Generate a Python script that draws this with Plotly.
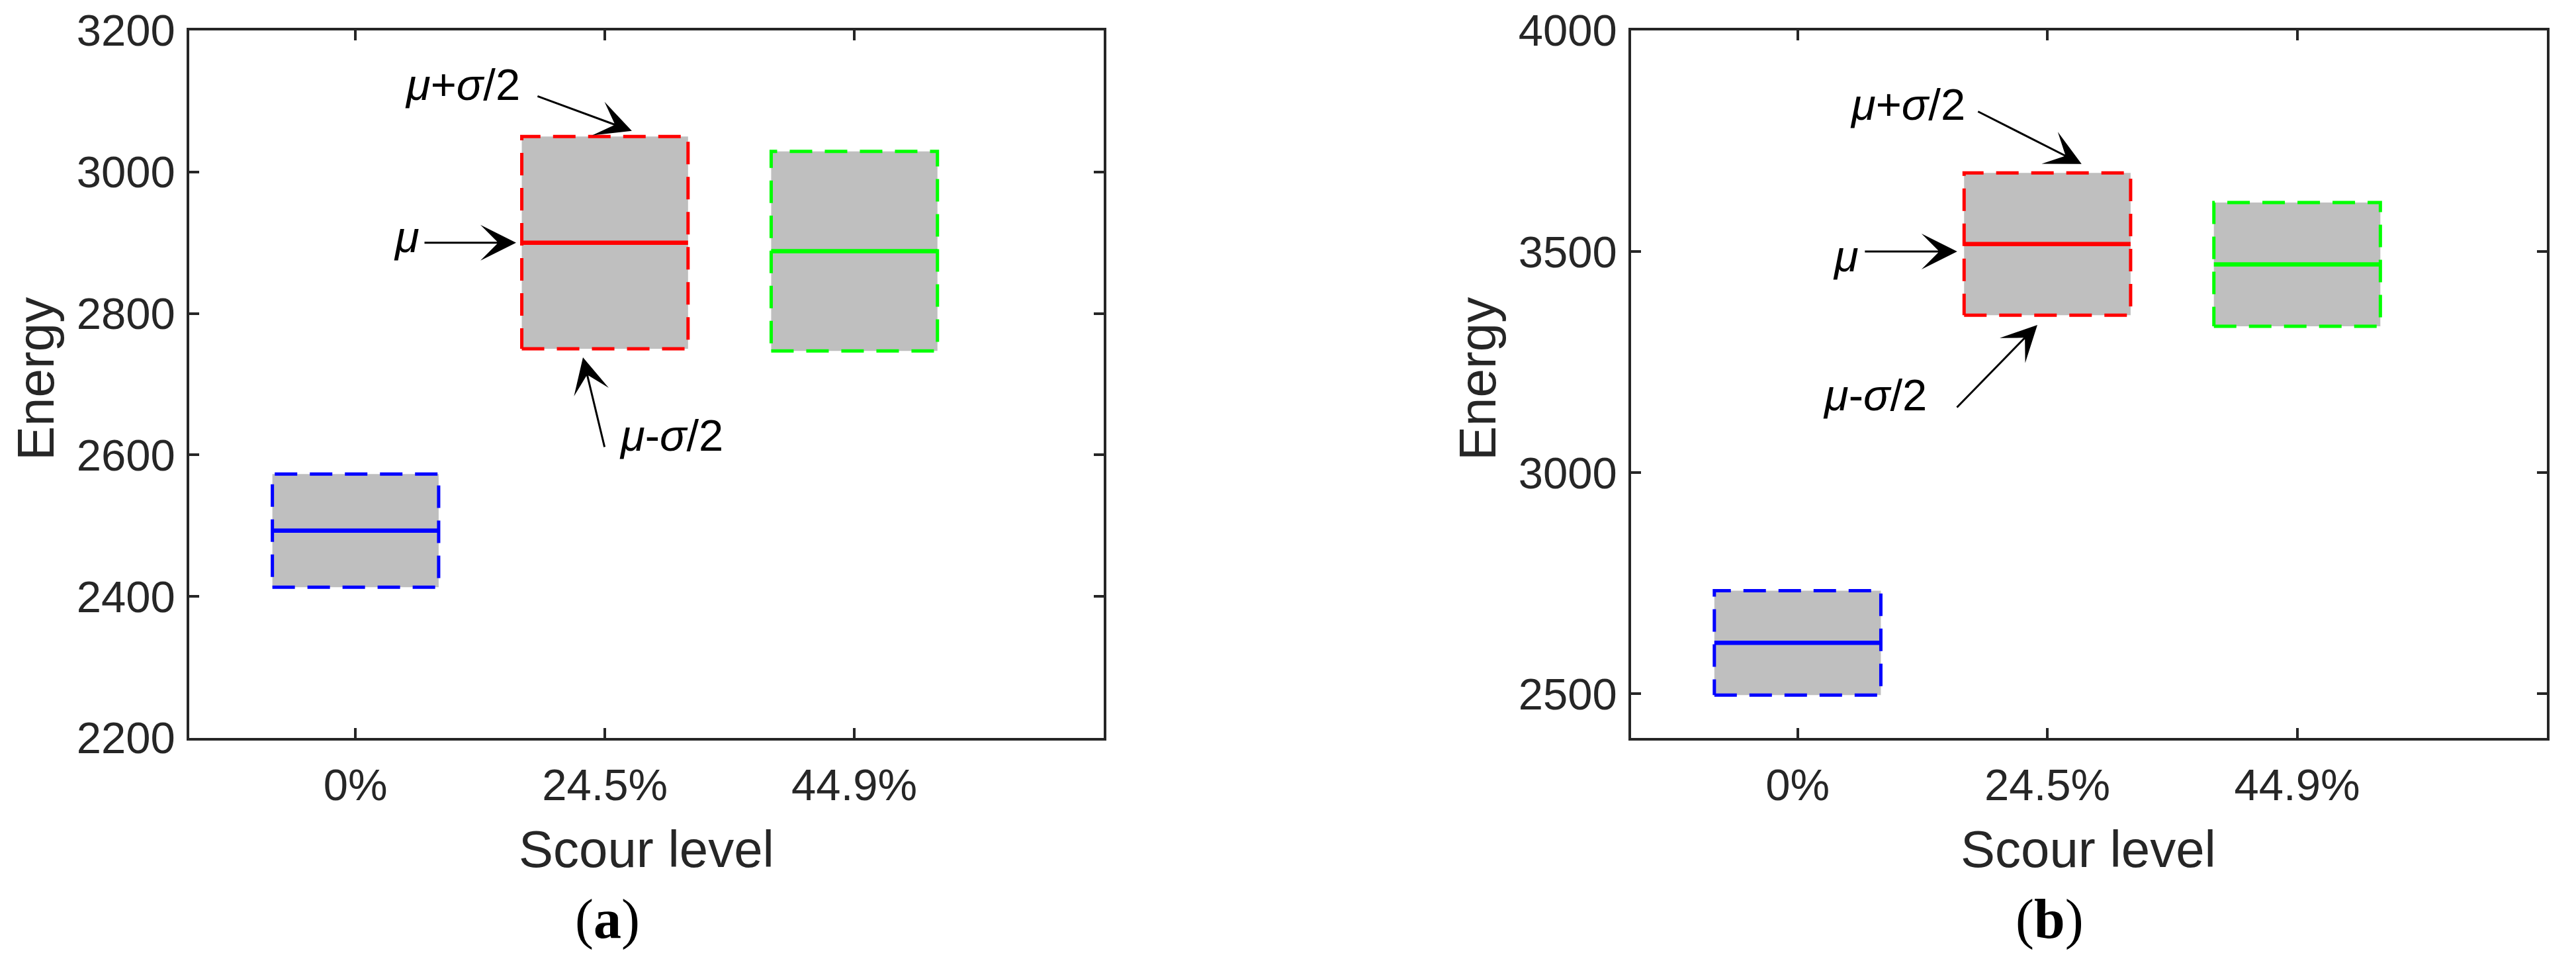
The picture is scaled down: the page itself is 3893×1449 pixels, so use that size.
import plotly.graph_objects as go

W, H = 3893, 1449

# data
levels = ["0%", "24.5%", "44.9%"]
level_pos = [1, 2, 3]
box_colors = ["#0000ff", "#ff0000", "#00ff00"]

mean_a = [2493, 2900, 2888]
half_sigma_a = [80, 150, 141]

mean_b = [2615, 3517, 3471]
half_sigma_b = [118, 161, 140]

yticks_a = [2200, 2400, 2600, 2800, 3000, 3200]
yticks_b = [2500, 3000, 3500, 4000]

half_width = 1 / 3
axis_col = "#262626"
sans = "Liberation Sans, Arial, sans-serif"


def px(x):
    return x / W


def py(y):
    return 1 - y / H


fig = go.Figure()


def add_boxes(means, halfs, xa, ya):
    for pos, m, h, col in zip(level_pos, means, halfs, box_colors):
        x0, x1 = pos - half_width, pos + half_width
        fig.add_trace(go.Scatter(
            x=[x0, x1, x1, x0, x0], y=[m - h, m - h, m + h, m + h, m - h],
            mode="lines", fill="toself", fillcolor="#bfbfbf",
            line=dict(color=col, width=5, dash="34px,19px"),
            xaxis=xa, yaxis=ya, showlegend=False, hoverinfo="skip"))
        fig.add_trace(go.Scatter(
            x=[x0, x1], y=[m, m], mode="lines",
            line=dict(color=col, width=6.5),
            xaxis=xa, yaxis=ya, showlegend=False))


add_boxes(mean_a, half_sigma_a, "x", "y")
add_boxes(mean_b, half_sigma_b, "x2", "y2")

common = dict(showline=True, mirror="ticks", linecolor=axis_col, linewidth=3.5,
              ticks="inside", ticklen=15, tickwidth=3.5, tickcolor=axis_col,
              showgrid=False, zeroline=False, ticklabeloverflow="allow",
              automargin=False,
              tickfont=dict(family=sans, size=67, color=axis_col))
xax = dict(common, range=[1 / 3, 4], tickvals=level_pos, ticktext=levels,
           ticklabelstandoff=10)
yax = dict(common, ticklabelstandoff=4)

fig.update_layout(
    template="none",
    width=W, height=H,
    margin=dict(l=0, r=0, t=0, b=0),
    paper_bgcolor="white", plot_bgcolor="white",
    xaxis=dict(xax, domain=[px(278), px(1660)], anchor="y"),
    yaxis=dict(yax, domain=[py(1107), py(38)], anchor="x",
               range=[2200, 3200], tickvals=yticks_a),
    xaxis2=dict(xax, domain=[px(2457), px(3841)], anchor="y2"),
    yaxis2=dict(yax, domain=[py(1107), py(38)], anchor="x2",
                range=[2400, 4000], tickvals=yticks_b),
)

# arrows: tip in data coords, tail offset in px
arrows = [
    ("x", "y", 2.108, 3058, -144, -53),
    ("x", "y", 1.644, 2900, -140, 0),
    ("x", "y", 1.912, 2738, 33, 137),
    ("x2", "y2", 2.137, 3698, -158, -80),
    ("x2", "y2", 1.639, 3500, -141, 0),
    ("x2", "y2", 1.960, 3334, -123, 126),
]
for xr, yr, x, y, ax, ay in arrows:
    fig.add_annotation(xref=xr, yref=yr, x=x, y=y, ax=ax, ay=ay, text="",
                       showarrow=True, arrowhead=3, arrowsize=3,
                       arrowwidth=3, arrowcolor="black")

# labels (pixel centres)
labels = [
    ("<i>μ</i>+<i>σ</i>/2", 691, 120),
    ("<i>μ</i>", 606, 350),
    ("<i>μ</i>-<i>σ</i>/2", 1006, 649),
    ("<i>μ</i>+<i>σ</i>/2", 2875, 149),
    ("<i>μ</i>", 2781, 378),
    ("<i>μ</i>-<i>σ</i>/2", 2825, 588),
]
for txt, x, y in labels:
    fig.add_annotation(xref="paper", yref="paper", x=px(x), y=py(y),
                       xanchor="center", yanchor="middle", text=txt,
                       showarrow=False,
                       font=dict(family=sans, size=67, color="black"))

for off in (0, 2179):
    fig.add_annotation(xref="paper", yref="paper", x=px(969 + off), y=py(1275),
                       xanchor="center", yanchor="middle", text="Scour level",
                       showarrow=False,
                       font=dict(family=sans, size=78, color=axis_col))
    fig.add_annotation(xref="paper", yref="paper", x=px(46 + off), y=py(565),
                       xanchor="center", yanchor="middle", text="Energy",
                       textangle=-90, showarrow=False,
                       font=dict(family=sans, size=78, color=axis_col))

for txt, x in (("(<b>a</b>)", 910), ("(<b>b</b>)", 3089)):
    fig.add_annotation(xref="paper", yref="paper", x=px(x), y=py(1381),
                       xanchor="center", yanchor="middle", text=txt,
                       showarrow=False,
                       font=dict(family="Liberation Serif, Times New Roman, serif",
                                 size=84, color="black"))

fig.write_html("out.html")
